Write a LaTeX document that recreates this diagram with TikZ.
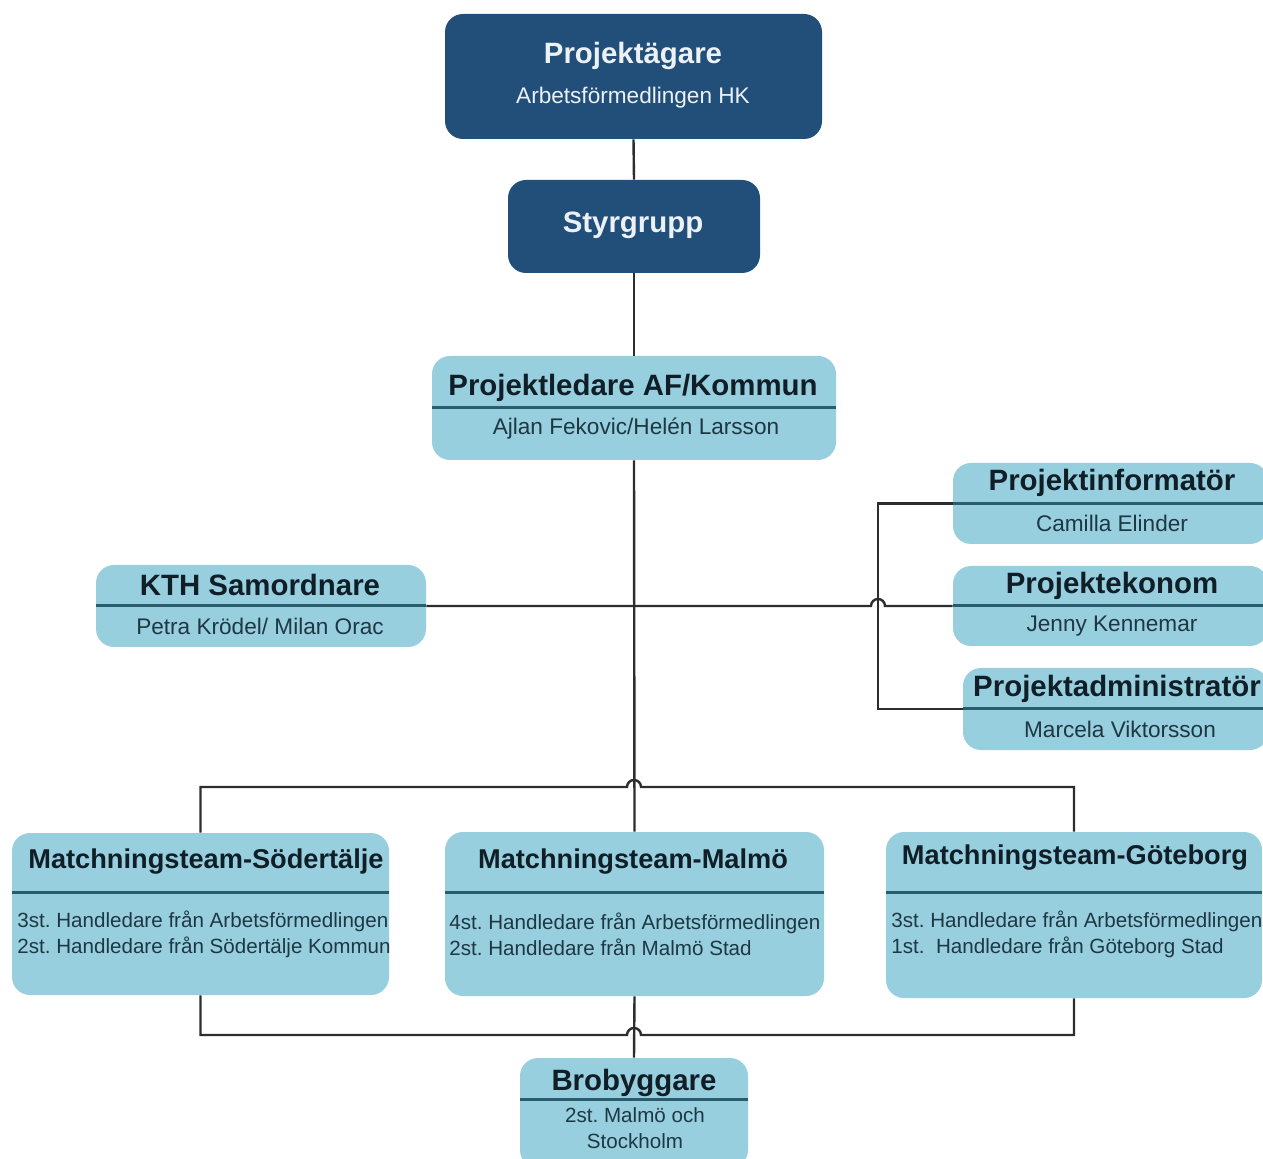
\documentclass[tikz,border=0pt]{standalone}
\usepackage{fontspec}
\setmainfont{Liberation Sans}
\usetikzlibrary{positioning}
\frenchspacing

\definecolor{ownerblue}{RGB}{33,79,122}
\definecolor{unitblue}{RGB}{152,207,222}
\definecolor{divteal}{RGB}{42,92,108}
\definecolor{linegray}{RGB}{45,45,45}
\definecolor{inktext}{RGB}{16,30,40}
\definecolor{nametxt}{RGB}{30,55,68}
\definecolor{paletext}{RGB}{236,241,246}

\begin{document}
\begin{tikzpicture}[x=0.5pt, y=-0.5pt,
    topbox/.style = {rectangle, rounded corners=9pt, fill=ownerblue, inner sep=0pt},
    unitbox/.style = {rectangle, rounded corners=9pt, fill=unitblue, inner sep=0pt},
    titletext/.style = {font=\fontsize{14.7}{17}\selectfont\bfseries, text=inktext, inner sep=0pt},
    teamtitle/.style = {titletext, font=\fontsize{13.6}{16}\selectfont\bfseries},
    nametext/.style = {font=\fontsize{11.3}{13}\selectfont, text=nametxt, inner sep=0pt},
    teamtext/.style = {font=\fontsize{10.3}{13}\selectfont, text=nametxt, align=left, inner sep=0pt},
    link/.style = {draw=linegray, line width=1.2pt},
    divider/.style = {draw=divteal, line width=1.5pt}]

    \clip (0,0) rectangle (1263,1159);

    % boxes
    \node [topbox, minimum width=188.5pt, minimum height=62.5pt] (owner) at (633.5,76.5) {};
    \node [topbox, minimum width=126pt, minimum height=46.5pt] (steer) at (634,226.5) {};
    \node [unitbox, minimum width=202pt, minimum height=52pt] (lead) at (634,408) {};
    \node [unitbox, minimum width=157.5pt, minimum height=40.5pt] (info) at (1110.5,503.5) {};
    \node [unitbox, minimum width=157.5pt, minimum height=40pt] (econ) at (1110.5,606) {};
    \node [unitbox, minimum width=152.5pt, minimum height=41pt] (admin) at (1115.5,709) {};
    \node [unitbox, minimum width=165pt, minimum height=41pt] (kth) at (261,606) {};
    \node [unitbox, minimum width=188.5pt, minimum height=81pt] (team1) at (200.5,914) {};
    \node [unitbox, minimum width=189.5pt, minimum height=82pt] (team2) at (634.5,914) {};
    \node [unitbox, minimum width=188pt, minimum height=83pt] (team3) at (1074,915) {};
    \node [unitbox, minimum width=114pt, minimum height=55pt] (bridge) at (634,1113) {};

    % dividers
    \draw [divider] (lead.west) -- (lead.east);
    \draw [divider] (info.west) -- (info.east);
    \draw [divider] (econ.west) -- (econ.east);
    \draw [divider] (admin.west) -- (admin.east);
    \draw [divider] (kth.west) -- (kth.east);
    \draw [divider] ([yshift=-30pt]team1.north west) -- ([yshift=-30pt]team1.north east);
    \draw [divider] ([yshift=-30.5pt]team2.north west) -- ([yshift=-30.5pt]team2.north east);
    \draw [divider] ([yshift=-30.5pt]team3.north west) -- ([yshift=-30.5pt]team3.north east);
    \draw [divider] ([yshift=-21pt]bridge.north west) -- ([yshift=-21pt]bridge.north east);

    % connectors
    \coordinate (staffbar) at (878,606);
    \coordinate (teamsplit) at (634,787);
    \coordinate (teamjoin) at (634,1035);

    \draw [link] (owner.south) -- (steer.north);
    \draw [link] (steer.south) -- (lead.north);
    \draw [link] (lead.south) -- (team2.north);
    \draw [link] (team2.south) -- (bridge.north);

    \draw [link] (kth.east) -- ([xshift=-3.5pt]staffbar) arc (180:0:3.5pt) -- (econ.west);
    \draw [link] (info.west) -| (staffbar |- admin.west) -- (admin.west);

    \draw [link] (team1.north) -- (team1.north |- teamsplit) -- ([xshift=-3.5pt]teamsplit)
        arc (180:0:3.5pt) -- (team3.north |- teamsplit) -- (team3.north);
    \draw [link] (team1.south) -- (team1.south |- teamjoin) -- ([xshift=-3.5pt]teamjoin)
        arc (180:0:3.5pt) -- (team3.south |- teamjoin) -- (team3.south);

    % texts
    \node [titletext, text=paletext] (ownerT) at (633,56) {Projektägare};
    \node [nametext, text=paletext] (ownerN) at (633,98) {Arbetsförmedlingen HK};
    \node [titletext, text=paletext] (steerT) at (633,225) {Styrgrupp};

    \node [titletext] (leadT) at (633,388) {Projektledare AF/Kommun};
    \node [nametext] (leadN) at (636,429) {Ajlan Fekovic/Helén Larsson};

    \node [titletext] (infoT) at (1112,483) {Projektinformatör};
    \node [nametext] (infoN) at (1112,523) {Camilla Elinder};
    \node [titletext] (econT) at (1112,586) {Projektekonom};
    \node [nametext] (econN) at (1112,626) {Jenny Kennemar};
    \node [titletext] (adminT) at (1117,689) {Projektadministratör};
    \node [nametext] (adminN) at (1120,729) {Marcela Viktorsson};

    \node [titletext] (kthT) at (260,585) {KTH Samordnare};
    \node [nametext] (kthN) at (260,626) {Petra Krödel/ Milan Orac};

    \node [teamtitle] (team1T) at (206,862) {Matchningsteam-Södertälje};
    \node [teamtext, anchor=west] (team1N) at (17,934) {3st. Handledare från Arbetsförmedlingen\\2st. Handledare från Södertälje Kommun};
    \node [teamtitle] (team2T) at (633,862) {Matchningsteam-Malmö};
    \node [teamtext, anchor=west] (team2N) at (449,934) {4st. Handledare från Arbetsförmedlingen\\2st. Handledare från Malmö Stad};
    \node [teamtitle] (team3T) at (1075,858) {Matchningsteam-Göteborg};
    \node [teamtext, anchor=west] (team3N) at (891,934) {3st. Handledare från Arbetsförmedlingen\\1st.\ \ Handledare från Göteborg Stad};

    \node [titletext] (bridgeT) at (634,1083) {Brobyggare};
    \node [teamtext, align=center, text depth=0pt] (bridgeN) at (635,1128) {2st. Malmö och\\Stockholm};
\end{tikzpicture}
\end{document}
